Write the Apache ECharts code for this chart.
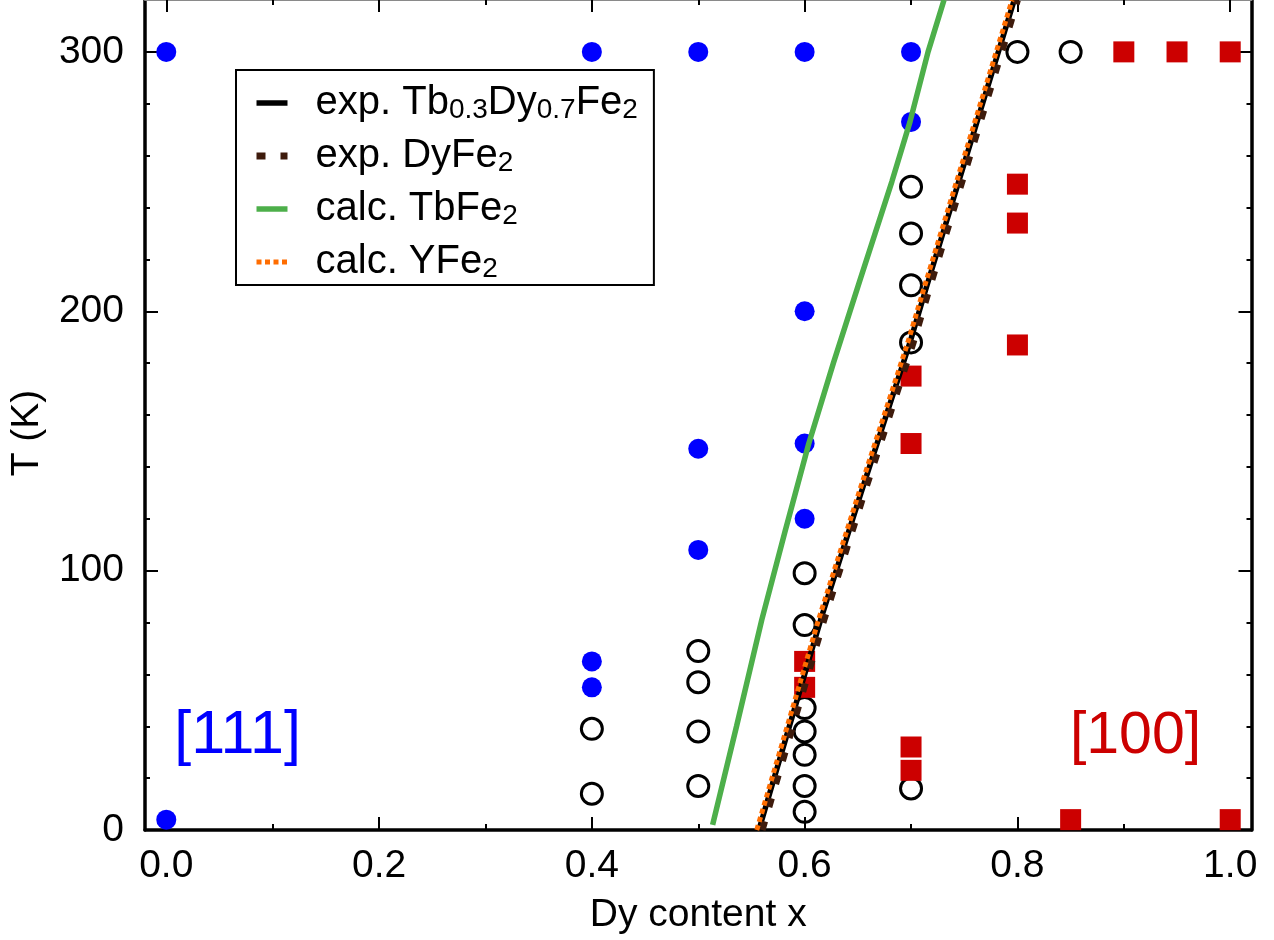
<!DOCTYPE html>
<html><head><meta charset="utf-8">
<script src="https://cdn.jsdelivr.net/npm/echarts@6/dist/echarts.min.js"></script>
<style>html,body{margin:0;padding:0;background:#fff}#c{width:1274px;height:940px}</style>
</head><body><div id="c"></div>
<script>
const FONT = '"Liberation Sans", Arial, Helvetica, sans-serif';

// tick positions / labels
const xMajorTicks = [0, 0.2, 0.4, 0.6, 0.8, 1.0];
const xMinorTicks = [0.1, 0.3, 0.5, 0.7, 0.9];
const yMajorTicks = [0, 100, 200, 300];
const yMinorTicks = [20, 40, 60, 80, 120, 140, 160, 180, 220, 240, 260, 280];

// measured points [Dy content x, T (K)]
const pts111 = [[0,300],[0.4,300],[0.5,300],[0.6,300],[0.7,300],[0,4],[0.7,273],[0.6,200],[0.5,147],[0.6,149],[0.6,120],[0.5,108],[0.4,65],[0.4,55]];
const ptsOpen = [[0.8,300],[0.85,300],[0.7,248],[0.7,230],[0.7,210],[0.7,188],[0.7,16],[0.6,99],[0.6,79],[0.6,47],[0.6,38],[0.6,29],[0.6,17],[0.6,7],[0.5,69],[0.5,57],[0.5,38],[0.5,17],[0.4,39],[0.4,14]];
const pts100 = [[0.9,300],[0.95,300],[1.0,300],[0.8,249],[0.8,234],[0.8,187],[0.7,175],[0.7,149],[0.6,65],[0.6,55],[0.7,32],[0.7,23],[0.85,4],[1.0,4]];

// spin-reorientation lines
const lineExpTbDy = [[0.557,0],[0.600,60],[0.615,81],[0.653,130],[0.699,188],[0.715,210],[0.756,265],[0.797,320]];
const lineExpDy   = [[0.560,0],[0.603,60],[0.618,81],[0.656,130],[0.702,188],[0.718,210],[0.759,265],[0.800,320]];
const lineCalcTb  = [[0.5135,2],[0.536,40],[0.5597,81],[0.5815,115],[0.6039,149],[0.627,180],[0.652,212],[0.682,250],[0.699,273],[0.716,300],[0.731,320]];
const lineCalcY   = [[0.555,0],[0.598,60],[0.613,81],[0.651,130],[0.697,188],[0.713,210],[0.754,265],[0.795,320]];

// annotations
const ann111 = [[0.067, 36]];
const ann100 = [[0.911, 36]];

const names = ['exp. Tb0.3Dy0.7Fe2', 'exp. DyFe2', 'calc. TbFe2', 'calc. YFe2'];
const legendRich = {
  'exp. Tb0.3Dy0.7Fe2': '{sp| }{n|exp. Tb}{s|0.3}{n|Dy}{s|0.7}{n|Fe}{s|2}',
  'exp. DyFe2': '{sp| }{n|exp. DyFe}{s|2}',
  'calc. TbFe2': '{sp| }{n|calc. TbFe}{s|2}',
  'calc. YFe2': '{sp| }{n|calc. YFe}{s|2}'
};

const FS = 39;
const LFS = 40;
const X0 = -0.02, X1 = 1.02, Y0 = 0, Y1 = 320;

function xAx(pos, ticks, len, showLine, lineColor, lineWidth, labels) {
  return {
    type: 'value', position: pos, min: X0, max: X1, gridIndex: 0,
    axisLine: { show: showLine, onZero: false, lineStyle: { color: lineColor, width: lineWidth } },
    axisTick: { show: true, inside: true, length: len, customValues: ticks, lineStyle: { color: '#000', width: 2 } },
    axisLabel: labels ? { show: true, customValues: ticks, formatter: v => v.toFixed(1), fontSize: FS, color: '#000', fontFamily: FONT, margin: 17 } : { show: false },
    splitLine: { show: false }
  };
}
function yAx(pos, ticks, len, showLine, labels) {
  return {
    type: 'value', position: pos, min: Y0, max: Y1, gridIndex: 0,
    axisLine: { show: showLine, onZero: false, lineStyle: { color: '#000', width: 3.5 } },
    axisTick: { show: true, inside: true, length: len, customValues: ticks, lineStyle: { color: '#000', width: 2 } },
    axisLabel: labels ? { show: true, customValues: ticks, formatter: v => String(v), fontSize: FS, color: '#000', fontFamily: FONT, margin: 21 } : { show: false },
    splitLine: { show: false }
  };
}

const xAxes = [
  xAx('bottom', xMajorTicks, 13, true, '#000', 3.5, true),
  xAx('bottom', xMinorTicks, 6, false, '#000', 1, false),
  xAx('top', xMajorTicks, 12, true, '#8a8a8a', 2, false),
  xAx('top', xMinorTicks, 5, false, '#000', 1, false)
];
Object.assign(xAxes[0], { name: 'Dy content x', nameLocation: 'middle', nameGap: 66,
  nameTextStyle: { fontSize: FS, color: '#000', fontFamily: FONT } });

const yAxes = [
  yAx('left', yMajorTicks, 13, true, true),
  yAx('left', yMinorTicks, 5, false, false),
  yAx('right', yMajorTicks, 13, true, false),
  yAx('right', yMinorTicks, 5, false, false)
];
Object.assign(yAxes[0], { name: 'T (K)', nameLocation: 'middle', nameRotate: 90, nameGap: 98,
  nameTextStyle: { fontSize: FS, color: '#000', fontFamily: FONT, padding: [0, 36, 0, 0] } });

const lineCommon = { type: 'line', symbol: 'none', showSymbol: false, z: 5, clip: true,
  emphasis: { disabled: true }, xAxisIndex: 0, yAxisIndex: 0 };

const scatterCommon = { type: 'scatter', z: 2, emphasis: { disabled: true }, xAxisIndex: 0, yAxisIndex: 0 };

const option = {
  animation: false,
  backgroundColor: '#fff',
  grid: { left: 140.5, right: 22.5, top: 0, bottom: 110, containLabel: false },
  xAxis: xAxes,
  yAxis: yAxes,
  legend: {
    data: names,
    orient: 'vertical', left: 236, top: 70,
    padding: [13, 16, 2, 17],
    borderColor: '#000', borderWidth: 2, borderRadius: 0,
    backgroundColor: '#fff',
    itemWidth: 31, itemHeight: 14, itemGap: 12,
    selectedMode: false,
    itemStyle: { opacity: 0, color: 'rgba(0,0,0,0)', borderWidth: 0 },
    lineStyle: { width: 'inherit', type: 'inherit', color: 'inherit', opacity: 1 },
    formatter: n => legendRich[n],
    textStyle: {
      color: '#000', fontFamily: FONT, fontSize: LFS,
      rich: {
        sp: { width: 23, fontSize: LFS, lineHeight: 42 },
        n: { fontSize: LFS, lineHeight: 42, fontFamily: FONT, color: '#000' },
        s: { fontSize: 28, lineHeight: 28, verticalAlign: 'bottom', fontFamily: FONT, color: '#000' }
      }
    }
  },
  series: [
    Object.assign({}, scatterCommon, { name: 'pts111', data: pts111, symbol: 'circle', symbolSize: 20,
      itemStyle: { color: '#0000ff', opacity: 1 } }),
    Object.assign({}, scatterCommon, { name: 'ptsOpen', data: ptsOpen, symbol: 'circle', symbolSize: 21,
      itemStyle: { color: 'rgba(0,0,0,0)', borderColor: '#000', borderWidth: 3, opacity: 1 } }),
    Object.assign({}, scatterCommon, { name: 'pts100', data: pts100, symbol: 'rect', symbolSize: 21,
      itemStyle: { color: '#cc0000', opacity: 1 } }),
    Object.assign({}, lineCommon, { name: names[0], data: lineExpTbDy,
      lineStyle: { color: '#000000', width: 5.5 }, itemStyle: { color: '#000000' } }),
    Object.assign({}, lineCommon, { name: names[2], data: lineCalcTb,
      lineStyle: { color: '#4daf4a', width: 5.5 }, itemStyle: { color: '#4daf4a' } }),
    Object.assign({}, lineCommon, { name: names[1], data: lineExpDy,
      lineStyle: { color: '#3e1b0c', width: 7, type: [9, 15] }, itemStyle: { color: '#3e1b0c' } }),
    Object.assign({}, lineCommon, { name: names[3], data: lineCalcY,
      lineStyle: { color: '#ff6d00', width: 5, type: [5, 3.5] }, itemStyle: { color: '#ff6d00' } }),
    Object.assign({}, scatterCommon, { name: 'ann111', data: ann111, symbolSize: 1, z: 6,
      itemStyle: { color: 'rgba(0,0,0,0)', opacity: 1 },
      label: { show: true, position: 'inside', formatter: '[111]', fontSize: 61, color: '#0000ff', fontFamily: FONT } }),
    Object.assign({}, scatterCommon, { name: 'ann100', data: ann100, symbolSize: 1, z: 6,
      itemStyle: { color: 'rgba(0,0,0,0)', opacity: 1 },
      label: { show: true, position: 'inside', formatter: '[100]', fontSize: 59, color: '#cc0000', fontFamily: FONT } })
  ]
};

const chart = echarts.init(document.getElementById('c'), null, { renderer: 'canvas' });
chart.setOption(option);
</script>
</body></html>
